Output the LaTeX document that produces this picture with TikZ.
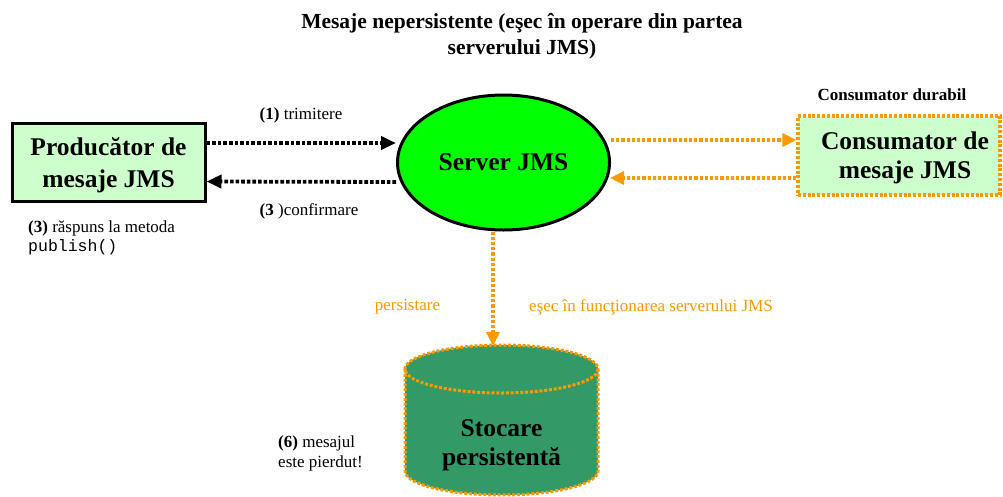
\documentclass[tikz,border=0pt]{standalone}
\usepackage{fontspec}
\setmainfont{Liberation Serif}
\setmonofont{Liberation Mono}
\usetikzlibrary{arrows.meta,shapes.geometric}
\definecolor{boxgreen}{HTML}{CCFFCC}
\definecolor{servergreen}{HTML}{00FF00}
\definecolor{jmsorange}{HTML}{FF9900}
\definecolor{storegreen}{HTML}{339966}
\tikzset{
  bigtext/.style={font=\fontsize{25.5}{32}\selectfont\bfseries, align=center},
  prodbox/.style={draw=black, line width=3pt, fill=boxgreen, minimum width=193pt,
    minimum height=78pt, inner sep=0pt, bigtext},
  consbox/.style={draw=jmsorange, line width=3.2pt, dash pattern=on 3pt off 1.8pt,
    fill=boxgreen, minimum width=202pt, minimum height=79pt, inner sep=0pt, bigtext,
    font=\fontsize{25.5}{29}\selectfont\bfseries},
  serverell/.style={ellipse, draw=black, line width=3pt, fill=servergreen,
    minimum width=212pt, minimum height=135pt, inner sep=0pt, bigtext},
  blkarrow/.style={draw=black, line width=3.8pt, dash pattern=on 3.6pt off 2pt,
    -{Triangle[length=15pt,width=13pt]}},
  orgarrow/.style={draw=jmsorange, line width=3.4pt, dash pattern=on 3.2pt off 2pt,
    -{Triangle[length=14pt,width=13pt]}},
  lbl/.style={font=\fontsize{17}{20}\selectfont, inner sep=0pt},
  orglbl/.style={lbl, text=jmsorange},
  storedash/.style={draw=jmsorange, line width=3pt, dash pattern=on 3pt off 1.8pt}
}
\begin{document}
\begin{tikzpicture}[x=1pt,y=-1pt]
\useasboundingbox (0,0) rectangle (1003,496);

% title
\node[font=\fontsize{21.5}{26}\selectfont\bfseries, align=center] (title) at (522,36)
  {Mesaje nepersistente (eşec în operare din partea\\serverului JMS)};

% main participants
\node[prodbox] (prod) at (108.5,162) {\rule{0pt}{24pt}Producător de\\mesaje JMS};
\node[serverell] (server) at (503.5,162.5) {Server JMS};
\node[consbox] (cons) at (899,155.5) {\rule{0pt}{23pt}\hspace*{12pt}Consumator de\\\hspace*{12pt}mesaje JMS};
\node[font=\fontsize{17}{20}\selectfont\bfseries, inner sep=0pt] (durabil) at (892,95) {Consumator durabil};

% persistent storage drawn as a cylinder
\fill[storegreen] (405,369) -- (405,471) arc[start angle=180, end angle=0, x radius=96.5, y radius=24]
  -- (598,369) arc[start angle=0, end angle=-180, x radius=96.5, y radius=24] -- cycle;
\draw[storedash] (405,369) -- (405,471) arc[start angle=180, end angle=0, x radius=96.5, y radius=24]
  -- (598,369);
\draw[storedash] (501.5,369) ellipse[x radius=96.5, y radius=24];
\node[bigtext, font=\fontsize{25.5}{29}\selectfont\bfseries] (store) at (501.5,445) {Stocare\\persistentă};
\coordinate (storetop) at (493,346);

% connectors
\draw[blkarrow] ([yshift=19pt]prod.east) -- ([yshift=19.5pt]server.west);
\draw[blkarrow] ([yshift=-19.5pt]server.west) -- ([yshift=-19.5pt]prod.east);
\draw[orgarrow] ([yshift=22.5pt]server.east) -- ([yshift=15.5pt]cons.west);
\draw[orgarrow] ([yshift=-22.5pt]cons.west) -- ([xshift=-1pt,yshift=-15.5pt]server.east);
\draw[orgarrow] (server.south -| storetop) -- (storetop);

% labels
\node[lbl] (l1) at (301,115) {\textbf{(1)} trimitere};
\node[lbl] (l3) at (309,211) {\textbf{(3} )confirmare};
\node[lbl, anchor=west] (r3) at (28,228) {\textbf{(3)} răspuns la metoda};
\node[lbl, anchor=west, font=\fontsize{16.5}{19}\ttfamily] (pub) at (28,247) {publish()};
\node[orglbl] (pers) at (407.5,307) {persistare};
\node[orglbl] (fail) at (651,307) {eşec în funcţionarea serverului JMS};
\node[lbl, anchor=west, align=left] (lost) at (278,453) {\textbf{(6)} mesajul\\este pierdut!};
\end{tikzpicture}
\end{document}
